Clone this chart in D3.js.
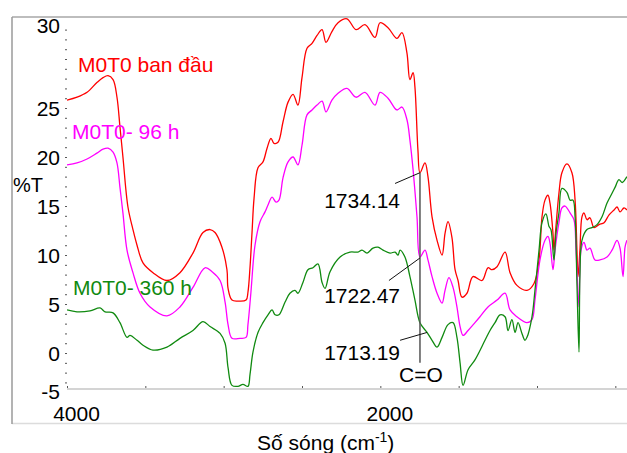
<!DOCTYPE html>
<html>
<head>
<meta charset="utf-8">
<script src="https://cdn.jsdelivr.net/npm/d3@7"></script>
<style>
  body { margin: 0; background: #fff; }
  svg { display: block; font-family: "Liberation Sans", Arial, sans-serif; }
</style>
</head>
<body>
<script>
// spectra: wavenumber (cm-1) and %T
var wnRed = [4000,3936,3872,3809,3770,3738,3706,3681,3662,3643,3611,3579,3553,3515,3451,3362,3279,3196,3132,3087,3055,3011,2979,2972,2947,2909,2857,2845,2832,2819,2806,2781,2749,2723,2698,2679,2653,2621,2589,2557,2526,2500,2468,2436,2404,2372,2347,2309,2270,2213,2155,2098,2034,2002,1951,1894,1862,1830,1811,1791,1779,1760,1747,1715,1696,1670,1638,1606,1587,1568,1543,1523,1504,1479,1447,1409,1351,1313,1287,1255,1204,1172,1128,1064,1019,987,968,949,930,917,898,892,879,860,841,809,777,757,745,738,726,713,700,681,662,636,604,572,540,508,489,470,445,426];
var tRed = [25.8,26.1,26.6,27.6,28.1,28.3,27.9,26.1,23.1,20.0,14.9,12.6,11.0,9.2,8.2,7.4,8.2,10.2,12.3,12.6,12.3,10.8,8.5,6.6,5.4,5.3,5.4,6.2,8.7,12.3,15.8,18.9,19.5,20.9,21.9,21.4,21.5,23.6,25.6,26.4,25.3,28.1,31.1,31.6,32.4,33.0,31.7,32.8,33.7,34.1,33.0,33.5,32.2,33.7,33.2,32.1,32.7,30.6,27.9,28.6,27.1,20.7,18.4,19.4,18.0,13.9,11.5,10.0,12.2,13.4,11.8,8.5,7.4,5.7,6.1,7.8,7.4,8.7,8.5,8.8,10.3,8.2,6.9,6.4,7.1,9.5,13.9,15.6,16.1,15.3,12.2,10.5,12.9,16.3,18.4,19.3,18.4,15.6,10.5,7.8,10.5,13.9,14.3,13.6,13.8,12.8,13.1,13.3,14.1,14.6,14.9,14.4,14.8,14.6];

var wnMag = [4000,3936,3872,3809,3770,3738,3706,3681,3662,3643,3617,3579,3534,3470,3362,3279,3196,3119,3074,3023,2991,2972,2947,2896,2857,2845,2826,2800,2768,2736,2717,2691,2666,2647,2621,2589,2557,2526,2500,2468,2436,2404,2372,2347,2309,2270,2213,2155,2098,2034,2002,1951,1894,1862,1830,1811,1791,1766,1747,1715,1696,1670,1638,1606,1587,1562,1536,1511,1491,1472,1440,1396,1364,1313,1255,1204,1172,1128,1064,1032,1013,981,949,930,917,898,885,860,841,821,789,764,751,732,719,700,681,662,630,598,553,521,489,470,451,438,426];
var tMag = [19.2,19.4,19.8,20.4,20.8,20.9,20.5,19.4,16.9,14.3,10.5,8.2,6.1,4.7,3.8,4.7,6.7,8.7,8.3,7.4,5.2,2.9,1.5,1.5,1.6,2.9,6.2,11.0,13.4,14.4,15.1,15.9,15.4,15.6,17.9,19.5,20.0,19.2,21.2,24.3,24.8,25.3,25.7,24.6,25.8,26.5,27.0,26.1,26.6,25.3,26.6,26.0,24.8,25.1,23.8,21.7,18.7,13.9,9.8,10.5,9.5,7.8,6.1,5.1,6.4,7.7,6.7,4.7,2.7,1.8,2.3,3.1,3.7,4.7,5.4,6.1,4.4,3.7,3.1,3.4,5.4,9.5,11.5,11.9,11.2,8.5,10.5,13.3,14.8,15.0,14.3,13.6,10.5,4.7,10.5,11.3,10.5,10.7,9.5,9.5,9.8,10.5,11.5,10.7,7.8,10.8,11.5];

var wnGreen = [4000,3936,3853,3789,3757,3706,3662,3617,3598,3553,3515,3451,3362,3279,3196,3132,3087,3023,2991,2972,2947,2909,2877,2845,2832,2813,2781,2749,2717,2691,2672,2647,2608,2577,2545,2526,2494,2462,2430,2398,2372,2353,2321,2257,2194,2143,2117,2085,2047,2015,1983,1938,1906,1887,1874,1843,1811,1779,1747,1702,1670,1638,1606,1568,1536,1511,1491,1472,1440,1396,1332,1300,1268,1236,1204,1185,1160,1140,1121,1096,1077,1064,1032,1013,987,968,943,923,911,892,879,860,841,809,789,770,757,745,732,726,713,681,649,617,585,553,521,502,477,457,426];
var tGreen = [4.4,4.2,4.3,4.6,4.2,4.1,3.1,1.6,1.8,1.3,0.8,0.3,0.6,1.5,2.3,3.2,2.7,2.0,1.0,-1.5,-3.3,-3.4,-3.2,-3.4,-2.2,0.1,2.1,3.1,3.9,4.4,3.9,3.9,5.2,6.1,6.4,6.1,7.2,8.5,8.7,9.1,7.2,6.6,8.3,9.8,10.3,10.3,10.5,10.2,10.7,10.8,10.5,10.2,10.3,10.0,10.5,9.8,7.8,5.4,3.1,2.1,1.3,0.6,1.6,2.9,3.1,1.6,-1.0,-3.3,-1.7,-0.7,1.3,2.3,3.1,3.9,3.7,2.3,3.4,2.1,3.1,2.0,1.3,1.6,3.7,6.4,10.5,13.3,14.2,12.9,12.6,9.5,12.2,14.3,16.8,16.4,15.6,15.6,13.9,7.1,0.1,7.8,11.5,12.6,12.8,13.1,13.9,15.3,16.3,16.9,17.7,17.4,18.0];

var seriesNames = ["M0T0 ban đầu", "M0T0- 96 h", "M0T0- 360 h"];
var seriesColors = ["#ff0000", "#ff00ff", "#108a10"];
var yTickValues = [-5, 0, 5, 10, 15, 20, 25, 30];
var xTickLabels = [4000, 2000];
var peakLabels = ["1734.14", "1722.47", "1713.19"];

var width = 627, height = 453;

var svg = d3.select('body').append('svg')
    .attr('width', width)
    .attr('height', height);

var x = d3.scaleLinear().domain([4000, 400]).range([67, 631]);
var y = d3.scaleLinear().domain([-3.67, 33.98]).range([389, 20]);
// the printed tick labels squeeze the ends (-5 and 30 sit at the axis ends)
var yTick = d3.scaleLinear().domain([-5, 0, 25, 30])
    .range([y(-3.87), y(0), y(25), y(33.5)]);

// outer frame
svg.append('line').attr('x1', 12).attr('x2', 627).attr('y1', 17).attr('y2', 17)
    .style('stroke', '#bdbdbd').style('stroke-width', 2);
svg.append('line').attr('x1', 12).attr('x2', 627).attr('y1', 423.5).attr('y2', 423.5)
    .style('stroke', '#dcdcdc').style('stroke-width', 1.5);
svg.append('line').attr('x1', 12).attr('x2', 12).attr('y1', 17).attr('y2', 424)
    .style('stroke', '#9a9a9a').style('stroke-width', 1.5);

// x axis line
svg.append('line').attr('x1', 67).attr('x2', 627).attr('y1', 389).attr('y2', 389)
    .style('stroke', '#d4d4d4').style('stroke-width', 2);

// small x ticks
var xMinor = svg.append('g').attr('transform', 'translate(0,388)')
    .call(d3.axisBottom(x).tickValues(d3.range(4000, 400, -500)).tickSize(-2).tickFormat(''));
xMinor.select('.domain').remove();
xMinor.selectAll('line').style('stroke', '#555');

// x labels
var xLab = svg.append('g').attr('transform', 'translate(0,389)')
    .call(d3.axisBottom(x).tickValues(xTickLabels).tickSize(0).tickFormat(d3.format('d')));
xLab.select('.domain').remove();
xLab.selectAll('text')
    .attr('y', 32).attr('dy', null).attr('dx', 9)
    .style('font-size', '21px').style('fill', '#000')
    .style('font-family', '"Liberation Sans", Arial, sans-serif');

// y dotted ticks
var yMinor = svg.append('g').attr('transform', 'translate(67,0)')
    .call(d3.axisLeft(y).tickValues(d3.range(-3, 34)).tickSize(2).tickFormat(''));
yMinor.select('.domain').remove();
yMinor.selectAll('line').style('stroke', '#555');

// y labels
var yLab = svg.append('g').attr('transform', 'translate(67,0)')
    .call(d3.axisLeft(yTick).tickValues(yTickValues).tickSize(0).tickPadding(7)
        .tickFormat(function (d) { return String(d); }));
yLab.select('.domain').remove();
yLab.selectAll('text')
    .attr('dy', '0.35em')
    .style('font-size', '21px').style('fill', '#000')
    .style('font-family', '"Liberation Sans", Arial, sans-serif');

svg.append('text').attr('x', 13).attr('y', 192)
    .style('font-size', '20px').text('%T');

var xTitle = svg.append('text').attr('x', 257).attr('y', 450)
    .style('font-size', '21px');
xTitle.append('tspan').text('Số sóng (cm');
xTitle.append('tspan').attr('dy', -8).style('font-size', '14px').text('-1');
xTitle.append('tspan').attr('dy', 8).text(')');

// spectra
svg.append('clipPath').attr('id', 'plotclip')
    .append('rect').attr('x', 67).attr('y', 0).attr('width', 560).attr('height', 400);

var line = d3.line()
    .x(function (d) { return x(d[0]); })
    .y(function (d) { return y(d[1]); })
    .curve(d3.curveCatmullRom.alpha(0.5));

var series = [
    d3.zip(wnRed, tRed),
    d3.zip(wnMag, tMag),
    d3.zip(wnGreen, tGreen)
];

svg.append('g').attr('clip-path', 'url(#plotclip)')
    .selectAll('path')
    .data(series)
    .enter()
    .append('path')
    .attr('d', line)
    .style('fill', 'none')
    .style('stroke', function (d, i) { return seriesColors[i]; })
    .style('stroke-width', 1.3);

// series names
var nameAnchors = [[3930, 29.4], [3968, 22.55], [3962, 6.63]];
svg.selectAll('.sname')
    .data(seriesNames)
    .enter()
    .append('text')
    .attr('class', 'sname')
    .attr('x', function (d, i) { return x(nameAnchors[i][0]); })
    .attr('y', function (d, i) { return y(nameAnchors[i][1]); })
    .attr('dy', '0.35em')
    .style('font-size', '21px')
    .style('fill', function (d, i) { return seriesColors[i]; })
    .text(function (d) { return d; });

// C=O marker
svg.append('line')
    .attr('x1', x(1747)).attr('x2', x(1747))
    .attr('y1', y(18.4)).attr('y2', y(-1.0))
    .style('stroke', '#555').style('stroke-width', 1.5);

var peakText = [[1874, 15.5], [1874, 5.9], [1874, 0.0]];
var peakFrom = [[1906, 17.3], [1945, 7.4], [1874, 1.3]];
var peakTo = [[1747, 18.4], [1747, 9.7], [1702, 2.1]];

svg.selectAll('.lead')
    .data(peakLabels)
    .enter()
    .append('line')
    .attr('class', 'lead')
    .attr('x1', function (d, i) { return x(peakFrom[i][0]); })
    .attr('y1', function (d, i) { return y(peakFrom[i][1]); })
    .attr('x2', function (d, i) { return x(peakTo[i][0]); })
    .attr('y2', function (d, i) { return y(peakTo[i][1]); })
    .style('stroke', '#111').style('stroke-width', 1);

svg.selectAll('.plab')
    .data(peakLabels)
    .enter()
    .append('text')
    .attr('class', 'plab')
    .attr('x', function (d, i) { return x(peakText[i][0]); })
    .attr('y', function (d, i) { return y(peakText[i][1]); })
    .attr('dy', '0.35em')
    .attr('text-anchor', 'end')
    .style('font-size', '21px')
    .text(function (d) { return d; });

svg.append('text')
    .attr('x', x(1741)).attr('y', y(-2.2)).attr('dy', '0.35em')
    .attr('text-anchor', 'middle')
    .style('font-size', '21px')
    .text('C=O');
</script>
</body>
</html>
